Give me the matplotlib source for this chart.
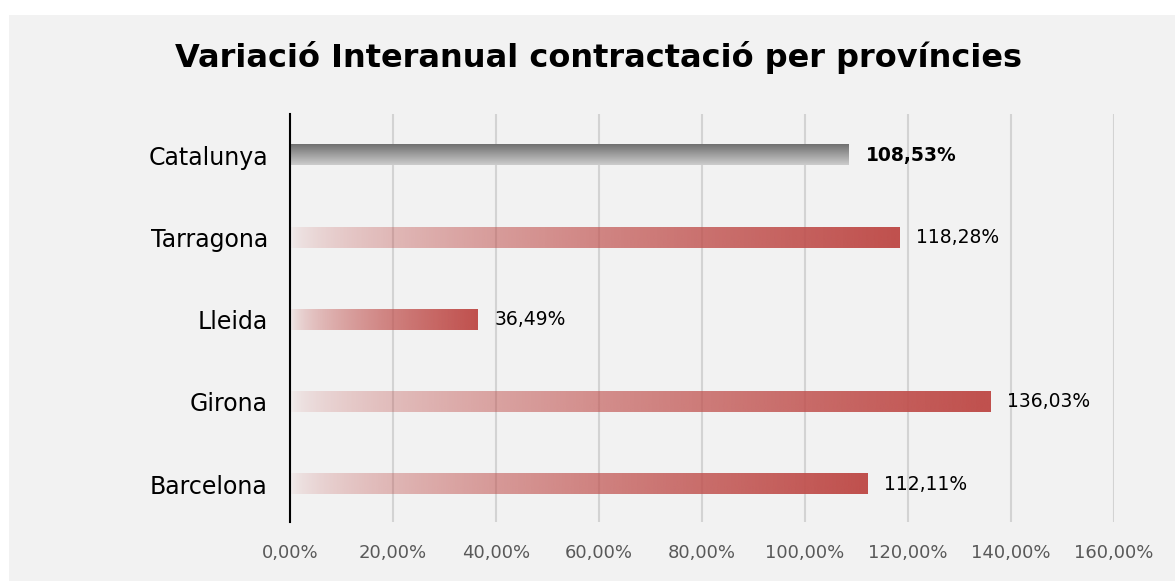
import numpy as np
import matplotlib
matplotlib.use("Agg")
import matplotlib.pyplot as plt
from matplotlib.patches import Rectangle

# dades (de dalt a baix)
provincies = ["Catalunya", "Tarragona", "Lleida", "Girona", "Barcelona"]
variacio = [108.53, 118.28, 36.49, 136.03, 112.11]
etiquetes = ["108,53%", "118,28%", "36,49%", "136,03%", "112,11%"]
ticks = [0, 20, 40, 60, 80, 100, 120, 140, 160]
tick_labels = ["0,00%", "20,00%", "40,00%", "60,00%", "80,00%",
               "100,00%", "120,00%", "140,00%", "160,00%"]

plt.rcParams["font.family"] = ["DejaVu Sans"]

fig = plt.figure(figsize=(11.75, 5.81), dpi=100, facecolor="white")
# panell gris
fig.patches.append(Rectangle((9 / 1175, 0), 1 - 9 / 1175, 1 - 15 / 581,
                             transform=fig.transFigure, facecolor="#f2f2f2",
                             edgecolor="none", zorder=-10))

ax = fig.add_axes([290 / 1175, 1 - 522 / 581, (1114 - 290) / 1175, (522 - 114) / 581])
ax.set_facecolor("none")

n = len(provincies)
ypos = np.arange(n)[::-1]
h = 0.25

red = np.array([192, 80, 77]) / 255.0
t = np.linspace(0, 1, 256)
alpha = 0.03 + 0.97 * t ** 0.6
red_grad = np.zeros((1, 256, 4))
red_grad[0, :, :3] = red
red_grad[0, :, 3] = alpha

g = np.linspace(0.44, 0.80, 64)
gray_grad = np.zeros((64, 1, 4))
gray_grad[:, 0, 0] = g
gray_grad[:, 0, 1] = g
gray_grad[:, 0, 2] = g
gray_grad[:, 0, 3] = 1

for i, (name, val, lab) in enumerate(zip(provincies, variacio, etiquetes)):
    y = ypos[i]
    if name == "Catalunya":
        ax.imshow(gray_grad, extent=(0, val, y - h / 2, y + h / 2),
                  aspect="auto", origin="upper", zorder=3, interpolation="bilinear")
        weight = "bold"
    else:
        ax.imshow(red_grad, extent=(0, val, y - h / 2, y + h / 2),
                  aspect="auto", zorder=3, interpolation="bilinear")
        weight = "normal"
    ax.annotate(lab, xy=(val, y), xytext=(12, 0), textcoords="offset points",
                ha="left", va="center", fontsize=13.5, fontweight=weight,
                color="black", zorder=4)

ax.set_xlim(0, 160)
ax.set_ylim(-0.46, n - 0.5)
ax.set_xticks(ticks)
ax.set_xticklabels(tick_labels, fontsize=13, color="#595959")
ax.set_yticks(ypos)
ax.set_yticklabels(provincies, fontsize=17, color="black")
ax.tick_params(axis="x", length=0, pad=16)
ax.tick_params(axis="y", length=0, pad=16)
ax.grid(axis="x", color="#d3d3d3", linewidth=1.5, zorder=1)
ax.set_axisbelow(True)
for s in ["top", "right", "bottom"]:
    ax.spines[s].set_visible(False)
ax.spines["left"].set_color("black")
ax.spines["left"].set_linewidth(1.5)
ax.spines["left"].set_zorder(5)

fig.text(598.5 / 1175, 1 - 57 / 581, "Variació Interanual contractació per províncies",
         ha="center", va="center", fontsize=23, fontweight="bold", color="black")

fig.savefig("out.png", dpi=100, facecolor="white")
